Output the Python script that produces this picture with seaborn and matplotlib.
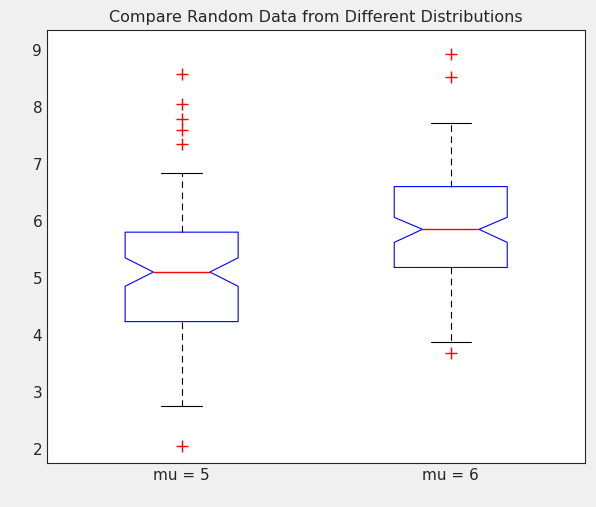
import matplotlib
matplotlib.use("Agg")
import matplotlib.pyplot as plt
import seaborn as sns

labels = ["mu = 5", "mu = 6"]
whislo = [2.75, 3.87]
q1 = [4.23, 5.18]
med = [5.10, 5.85]
q3 = [5.80, 6.60]
whishi = [6.83, 7.72]
cilo = [4.85, 5.62]
cihi = [5.35, 6.06]
fliers = [[2.05, 7.35, 7.60, 7.78, 8.05, 8.58], [3.68, 8.53, 8.92]]

sns.set_style("white")
plt.rcParams['font.family'] = ['DejaVu Sans']
fig = plt.figure(figsize=(5.96, 5.07), dpi=100, facecolor="#f0f0f0")
ax = fig.add_axes([0.079, 0.087, 0.903, 0.854])
stats = [dict(label=labels[i], whislo=whislo[i], q1=q1[i], med=med[i], q3=q3[i],
              whishi=whishi[i], cilo=cilo[i], cihi=cihi[i], fliers=fliers[i])
         for i in range(2)]
ax.bxp(stats, positions=[1, 2], widths=0.42, capwidths=0.15, shownotches=True,
       boxprops=dict(color="blue", lw=0.8),
       medianprops=dict(color="red", lw=1.0, zorder=5),
       whiskerprops=dict(color="black", lw=0.8, ls=(0, (6, 4))),
       capprops=dict(color="black", lw=0.8),
       flierprops=dict(marker="+", markeredgecolor="red", markersize=9, ls="none"))
ax.set_xlim(0.5, 2.5)
ax.set_ylim(1.75, 9.35)
ax.set_yticks(range(2, 10))
for s in ax.spines.values():
    s.set_color("#262626"); s.set_linewidth(0.8)
ax.tick_params(direction="in", length=4, labelsize=11, color="#262626")
ax.tick_params(axis="x", length=0)
ax.set_title("Compare Random Data from Different Distributions", fontsize=11.5, pad=6)
fig.savefig("out.png", dpi=100, facecolor=fig.get_facecolor())
